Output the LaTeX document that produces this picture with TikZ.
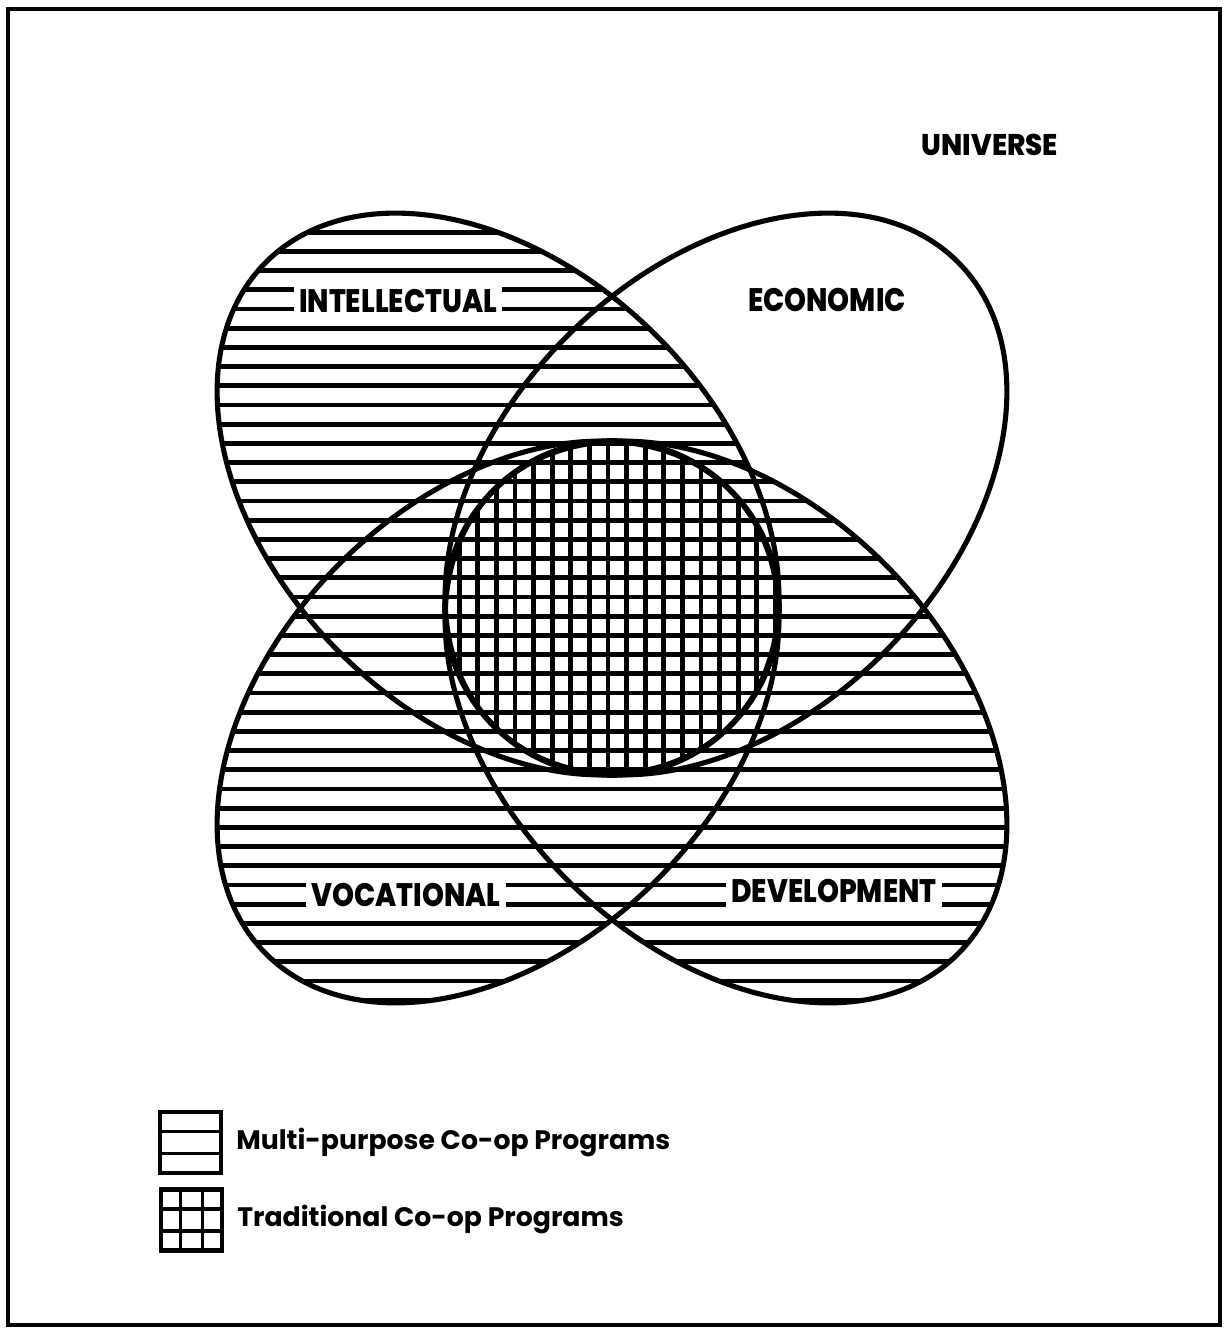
\documentclass[tikz,border=0pt]{standalone}
\usepackage{fontspec}
\usepackage{graphicx}
\newfontfamily\labelfont{Poppins}[UprightFont=* ExtraBold, BoldFont=* ExtraBold]
\newfontfamily\keyfont{Poppins}[UprightFont=* Bold, BoldFont=* Bold]
\usetikzlibrary{positioning, calc}
\newcommand{\cond}[1]{\scalebox{0.86}[1]{#1}}

\begin{document}
\begin{tikzpicture}[
    x=0.02cm, y=0.02cm,
    outline/.style={line width=2.9pt},
    hatch/.style={line width=2.8pt},
    setlabel/.style={font=\labelfont\fontsize{18.5}{19}\selectfont,
                     fill=white, inner xsep=3pt, inner ysep=4.5pt},
    unilabel/.style={font=\labelfont\fontsize{17}{18}\selectfont, inner sep=0pt},
    keybox/.style={draw, line width=2.3pt, minimum size=1.22cm, inner sep=0pt},
    keytext/.style={font=\keyfont\fontsize{15.2}{16}\selectfont,
                    anchor=base west, inner sep=0pt},
]
\useasboundingbox (0,0) rectangle (1227,1340);

% Frame
\draw[line width=1.8pt] (8,15) rectangle (1220,1331);

% Petal centres
\coordinate (C) at (612,732);
\coordinate (I) at (498,846);
\coordinate (E) at (726,846);
\coordinate (V) at (498,618);
\coordinate (D) at (726,618);

% Hatching of multi-purpose programs
\foreach \c/\a in {I/-45, V/45, D/-45} {
    \begin{scope}
        \clip[rotate around={\a:(\c)}] (\c) ellipse [x radius=328, y radius=224];
        \foreach \n in {0,...,41}
            \draw[hatch] (150,1127-19.2*\n) -- ++(900,0);
    \end{scope}
}

% Grid of traditional programs
\begin{scope}
    \clip (C) circle [radius=167];
    \foreach \m in {-10,...,10}
        \draw[hatch] (608+18.6*\m,540) -- ++(0,390);
\end{scope}

% Outlines
\draw[outline, rotate around={-45:(I)}] (I) ellipse [x radius=328, y radius=224];
\draw[outline, rotate around={45:(E)}] (E) ellipse [x radius=328, y radius=224];
\draw[outline, rotate around={45:(V)}] (V) ellipse [x radius=328, y radius=224];
\draw[outline, rotate around={-45:(D)}] (D) ellipse [x radius=328, y radius=224];
\draw[line width=3.2pt] (C) circle [radius=167];

% Set labels
\node[unilabel] (universe) at (990,1195) {\scalebox{0.93}[1]{UNIVERSE}};
\node[setlabel] (intellectual) at (398,1039) {\cond{INTELLECTUAL}};
\node[setlabel] (economic) at (827,1040) {\cond{ECONOMIC}};
\node[setlabel] (vocational) at (406,445) {\cond{VOCATIONAL}};
\node[setlabel] (development) at (834,449) {\cond{DEVELOPMENT}};

% Legend
\node[keybox] (keymulti) at (190.5,197.5) {};
\draw[line width=2pt] ($(keymulti.north west)!1/3!(keymulti.south west)$) -- ($(keymulti.north east)!1/3!(keymulti.south east)$);
\draw[line width=2pt] ($(keymulti.north west)!2/3!(keymulti.south west)$) -- ($(keymulti.north east)!2/3!(keymulti.south east)$);
\node[keytext] (multitext) at (236,190) {Multi-purpose Co-op Programs};

\node[keybox] (keytrad) at (191.5,120) {};
\foreach \t in {1/3, 2/3} {
    \draw[line width=2pt] ($(keytrad.north west)!\t!(keytrad.south west)$) -- ($(keytrad.north east)!\t!(keytrad.south east)$);
    \draw[line width=2pt] ($(keytrad.north west)!\t!(keytrad.north east)$) -- ($(keytrad.south west)!\t!(keytrad.south east)$);
}
\node[keytext] (tradtext) at (237,113) {Traditional Co-op Programs};

\end{tikzpicture}
\end{document}
